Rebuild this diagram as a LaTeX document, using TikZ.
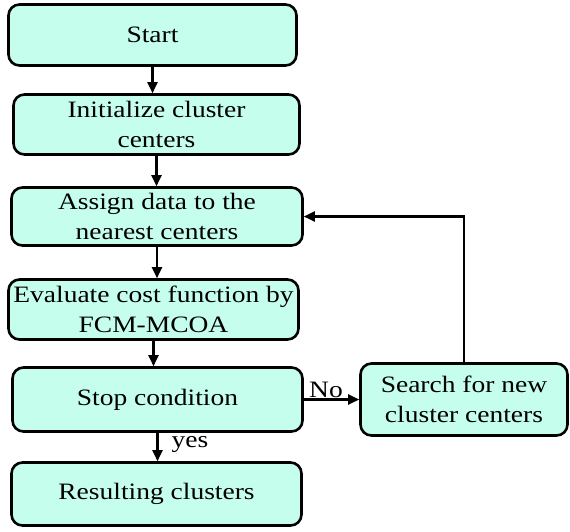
\documentclass[tikz,border=0pt]{standalone}
\usepackage{fontspec}
\setmainfont[FakeStretch=1.17]{Liberation Serif}
\usetikzlibrary{arrows.meta,positioning}
\definecolor{fcfill}{HTML}{C6FEEE}

\begin{document}
\begin{tikzpicture}[
    x=1pt, y=-1pt,
    font=\fontsize{23.5}{30}\selectfont, >={Triangle[length=11pt,width=10pt]},
    st/.style={rectangle,draw=black,line width=2.6pt,fill=fcfill,rounded corners=11pt,
               align=center,inner sep=2pt},
    ln/.style={->,line width=2.1pt},
    lbl/.style={inner sep=1pt}]

  \useasboundingbox (0,0) rectangle (570,531);

  % ---------------- main column
  \node[st,minimum width=288pt,minimum height=61pt] (start)  at (152.5, 35.0) {Start};
  \node[st,minimum width=286pt,minimum height=60pt] (init)   at (156.5,124.5) {Initialize cluster\\centers};
  \node[st,minimum width=291pt,minimum height=58pt] (assign) at (157.0,216.5) {Assign data to the\\nearest centers};
  \node[st,minimum width=290pt,minimum height=60pt] (eval)   at (153.5,309.5) {Evaluate cost function by\\FCM-MCOA};
  \node[st,minimum width=290pt,minimum height=64pt] (stop)   at (157.5,399.5) {Stop condition};
  \node[st,minimum width=290pt,minimum height=63pt] (result) at (156.5,494.0) {Resulting clusters};

  % ---------------- side box
  \node[st,minimum width=207pt,minimum height=72pt] (search) at (464.0,399.5) {Search for new\\cluster centers};

  % ---------------- connectors
  \draw[ln] (start.south) -- (start.south |- init.north);
  \draw[ln] (init.south) -- (init.south |- assign.north);
  \draw[ln] (assign.south) -- (assign.south |- eval.north);
  \draw[ln] (eval.south) -- (eval.south |- stop.north);
  \draw[ln] (stop.south) -- (stop.south |- result.north)
        node[lbl,right=12pt,pos=0.4] (yes) {yes};
  \draw[ln] (stop.east) -- (search.west)
        node[lbl,above,pos=0.4] (no) {No};
  \draw[ln] (search.north) |- (assign.east);
\end{tikzpicture}
\end{document}
